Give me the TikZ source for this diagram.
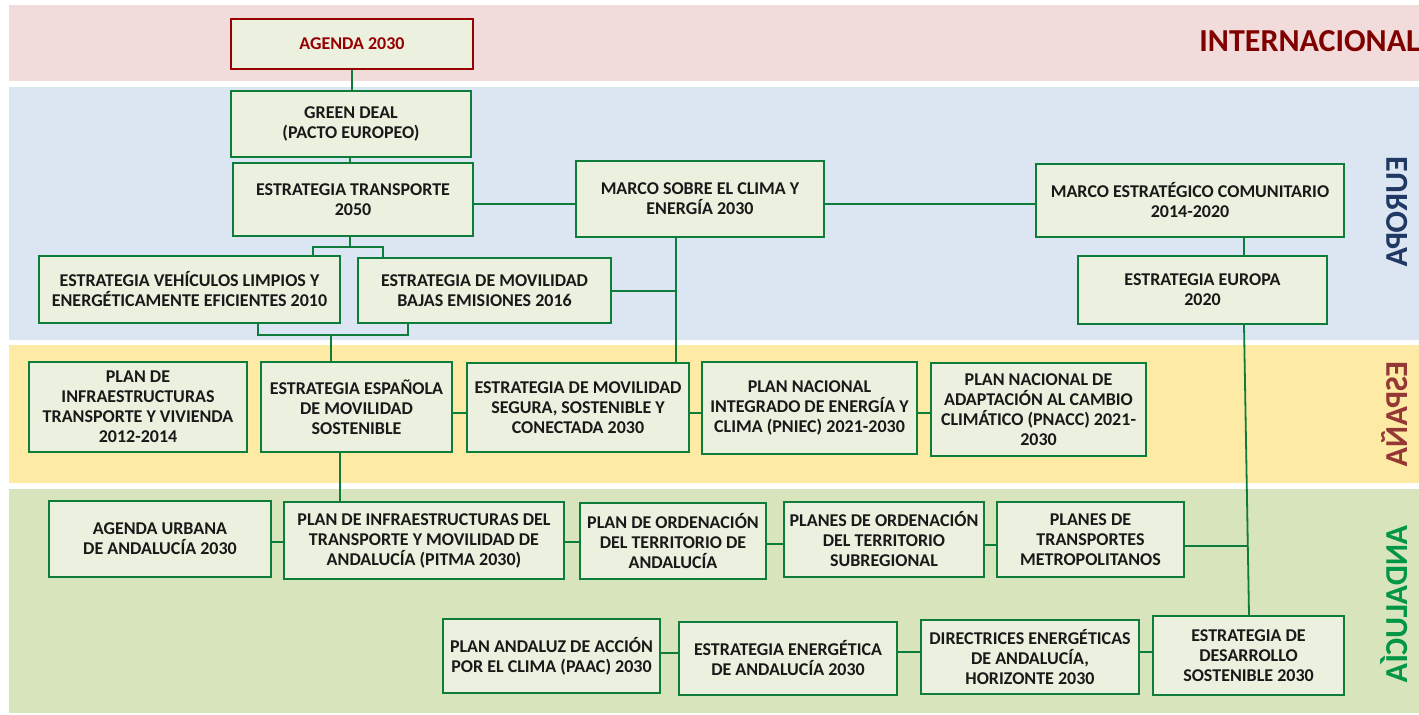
\documentclass[tikz,border=0pt]{standalone}
\usepackage{fontspec}
\setmainfont{Carlito}
\usetikzlibrary{calc}
\definecolor{bandpink}{RGB}{242,220,219}
\definecolor{bandblue}{RGB}{220,230,242}
\definecolor{bandyellow}{RGB}{253,234,165}
\definecolor{bandgreen}{RGB}{216,228,188}
\definecolor{boxfill}{RGB}{235,241,222}
\definecolor{boxgreen}{RGB}{14,124,58}
\definecolor{linegreen}{RGB}{14,124,58}
\definecolor{intred}{RGB}{128,0,0}
\definecolor{agendared}{RGB}{150,0,0}
\definecolor{eublue}{RGB}{31,56,100}
\definecolor{esred}{RGB}{149,55,53}
\definecolor{angreen}{RGB}{0,150,70}
\newcommand\bxnode[7][]{\node[box,#1,minimum width={(#5-#3)*0.5pt},minimum height={(#6-#4)*0.5pt}] (#2) at ({(#3+#5)/2},{(#4+#6)/2}) {#7};}
\begin{document}
\begin{tikzpicture}[x=0.5pt,y=-0.5pt,
  box/.style={draw=boxgreen, line width=1.1pt, fill=boxfill, inner sep=0pt, align=center,
    font=\fontsize{9}{10}\selectfont\bfseries, text=black!90},
  conn/.style={draw=linegreen, line width=0.9pt},
  lbl/.style={inner sep=0pt, font=\fontsize{16}{16}\selectfont\bfseries}]
\useasboundingbox (0,0) rectangle (1419,715);
\fill[white] (0,0) rectangle (1419,715);
% bands
\fill[bandpink] (9,5) rectangle (1419,81);
\fill[bandblue] (9,87) rectangle (1419,340);
\fill[bandyellow] (9,345) rectangle (1419,483);
\fill[bandgreen] (9,489) rectangle (1419,713);
% band labels
\node[lbl, text=intred, anchor=base west] (lint) at (1199,52) {INTERNACIONAL};
\node[lbl, text=eublue, anchor=east] (leu) at (1408,212) {\rotatebox{90}{\reflectbox{EUROPA}}};
\node[lbl, text=esred, anchor=east] (les) at (1408,414) {\rotatebox{90}{\reflectbox{ESPAÑA}}};
\node[lbl, text=angreen, anchor=east] (lan) at (1408,604) {\rotatebox{90}{\reflectbox{ANDALUCÍA}}};
% boxes
\bxnode[draw=agendared, text=agendared]{agenda}{231}{19}{473}{69}{AGENDA 2030}
\bxnode{green}{231}{91}{471}{157}{GREEN DEAL\\(PACTO EUROPEO)}
\bxnode{transp}{233}{163}{473}{236}{ESTRATEGIA TRANSPORTE\\2050}
\bxnode{marco}{576}{161}{824}{237}{MARCO SOBRE EL CLIMA Y\\ENERGÍA 2030}
\bxnode{mest}{1036}{164}{1344}{237}{MARCO ESTRATÉGICO COMUNITARIO\\2014-2020}
\bxnode{eu}{1078}{256}{1327}{324}{ESTRATEGIA EUROPA\\2020}
\bxnode{vehic}{39}{256}{340}{323}{ESTRATEGIA VEHÍCULOS LIMPIOS Y\\ENERGÉTICAMENTE EFICIENTES 2010}
\bxnode{bajas}{358}{258}{611}{323}{ESTRATEGIA DE MOVILIDAD\\BAJAS EMISIONES 2016}
\bxnode{pitv}{29}{362}{247}{452}{PLAN DE\\INFRAESTRUCTURAS\\TRANSPORTE Y VIVIENDA\\2012-2014}
\bxnode{espanola}{261}{362}{452}{452}{ESTRATEGIA ESPAÑOLA\\DE MOVILIDAD\\SOSTENIBLE}
\bxnode{segura}{467}{363}{689}{452}{ESTRATEGIA DE MOVILIDAD\\SEGURA, SOSTENIBLE Y\\CONECTADA 2030}
\bxnode{pniec}{702}{362}{917}{454}{PLAN NACIONAL\\INTEGRADO DE ENERGÍA Y\\CLIMA (PNIEC) 2021-2030}
\bxnode{pnacc}{931}{363}{1146}{456}{PLAN NACIONAL DE\\ADAPTACIÓN AL CAMBIO\\CLIMÁTICO (PNACC) 2021-\\2030}
\bxnode{urbana}{49}{501}{271}{577}{AGENDA URBANA\\DE ANDALUCÍA 2030}
\bxnode{pitma}{284}{502}{564}{579}{PLAN DE INFRAESTRUCTURAS DEL\\TRANSPORTE Y MOVILIDAD DE\\ANDALUCÍA (PITMA 2030)}
\bxnode{pot}{580}{503}{766}{579}{PLAN DE ORDENACIÓN\\DEL TERRITORIO DE\\ANDALUCÍA}
\bxnode{sub}{784}{502}{984}{577}{PLANES DE ORDENACIÓN\\DEL TERRITORIO\\SUBREGIONAL}
\bxnode{tm}{997}{502}{1184}{577}{PLANES DE\\TRANSPORTES\\METROPOLITANOS}
\bxnode{paac}{443}{619}{660}{693}{PLAN ANDALUZ DE ACCIÓN\\POR EL CLIMA (PAAC) 2030}
\bxnode{ee}{679}{622}{897}{695}{ESTRATEGIA ENERGÉTICA\\DE ANDALUCÍA 2030}
\bxnode{dir}{921}{620}{1139}{694}{DIRECTRICES ENERGÉTICAS\\DE ANDALUCÍA,\\HORIZONTE 2030}
\bxnode{desa}{1153}{616}{1344}{695}{ESTRATEGIA DE\\DESARROLLO\\SOSTENIBLE 2030}
% helper coordinates
\coordinate (x258) at (258,0);
\coordinate (x313) at (313,0);
\coordinate (x331) at (331,0);
\coordinate (x340) at (340,0);
\coordinate (x350) at (350,0);
\coordinate (x383) at (383,0);
\coordinate (x408) at (408,0);
\coordinate (x676) at (676,0);
\coordinate (x1244) at (1244,0);
\coordinate (x1247) at (1247,0);
\coordinate (x1249) at (1249,0);
\coordinate (y204) at (0,204);
\coordinate (y247) at (0,247);
\coordinate (y291) at (0,291);
\coordinate (y335) at (0,335);
\coordinate (y413) at (0,413);
\coordinate (y542) at (0,542);
\coordinate (y544) at (0,544);
\coordinate (y545) at (0,545);
\coordinate (y546) at (0,546);
\coordinate (y652) at (0,652);
\coordinate (y653) at (0,653);
% connectors
\draw[conn] (agenda.south) -- (agenda.south |- green.north);
\draw[conn] (green.south -| x350) -- (transp.north -| x350);
\draw[conn] (transp.east |- y204) -- (marco.west |- y204);
\draw[conn] (marco.east |- y204) -- (mest.west |- y204);
\draw[conn] (mest.south -| x1244) -- (eu.north -| x1244);
\draw[conn] (eu.south -| x1244) -- (desa.north -| x1249);
\draw[conn] (marco.south -| x676) -- (segura.north -| x676);
\draw[conn] (bajas.east |- y291) -- (x676 |- y291);
\draw[conn] (transp.south -| x350) -- (x350 |- y247);
\draw[conn] (vehic.north -| x313) -- (x313 |- y247) -- (x383 |- y247) -- (bajas.north -| x383);
\draw[conn] (vehic.south -| x258) -- (x258 |- y335) -- (x408 |- y335) -- (bajas.south -| x408);
\draw[conn] (x331 |- y335) -- (espanola.north -| x331);
\draw[conn] (espanola.east |- y413) -- (segura.west |- y413);
\draw[conn] (segura.east |- y413) -- (pniec.west |- y413);
\draw[conn] (pniec.east |- y413) -- (pnacc.west |- y413);
\draw[conn] (espanola.south -| x340) -- (pitma.north -| x340);
\draw[conn] (urbana.east |- y542) -- (pitma.west |- y542);
\draw[conn] (pitma.east |- y542) -- (pot.west |- y542);
\draw[conn] (pot.east |- y544) -- (sub.west |- y544);
\draw[conn] (sub.east |- y545) -- (tm.west |- y545);
\draw[conn] (tm.east |- y546) -- (x1247 |- y546);
\draw[conn] (paac.east |- y653) -- (ee.west |- y653);
\draw[conn] (ee.east |- y652) -- (dir.west |- y652);
\draw[conn] (dir.east |- y652) -- (desa.west |- y652);
\end{tikzpicture}
\end{document}
